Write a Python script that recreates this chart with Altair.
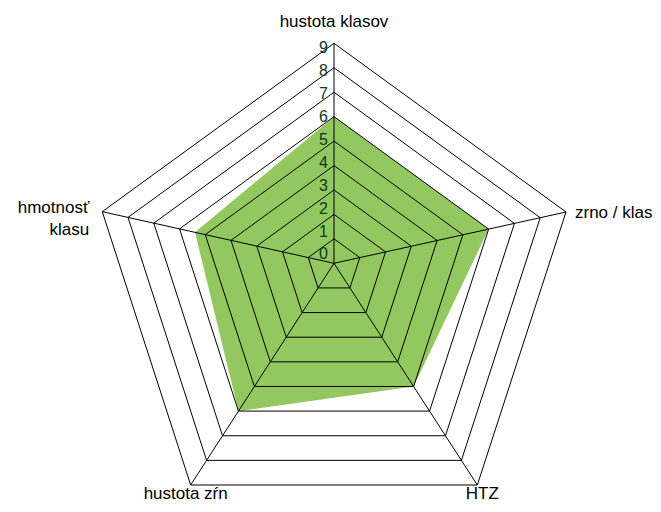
import math
import altair as alt
import pandas as pd

# ---- data ----
categories = ["hustota klasov", "zrno / klas", "HTZ", "hustota zŕn", "hmotnosť klasu"]
values = [6, 6, 5, 6, 5.4]
ring_levels = [1, 2, 3, 4, 5, 6, 7, 8, 9]
tick_labels = ["0", "1", "2", "3", "4", "5", "6", "7", "8", "9"]
max_value = 9

# ---- layout (spoke directions / lengths in px, as drawn in the reference) ----
SPOKE_ANGLE = [90.0, 12.47, -57.12, -122.88, 167.44]
SPOKE_LEN = [220.0, 237.6, 264.0, 264.0, 237.4]
LABEL_BASE = 8.9
LABEL_STEP = 22.9
W, H = 645, 496
X_DOM = [-326, 319]
Y_DOM = [-240.7, 255.3]

ux = [SPOKE_LEN[i] * math.cos(math.radians(SPOKE_ANGLE[i])) / max_value for i in range(5)]
uy = [SPOKE_LEN[i] * math.sin(math.radians(SPOKE_ANGLE[i])) / max_value for i in range(5)]

xs = alt.Scale(domain=X_DOM, zero=False, nice=False)
ys = alt.Scale(domain=Y_DOM, zero=False, nice=False)

def X(f="x"):
    return alt.X(f"{f}:Q", scale=xs, axis=None)

def Y(f="y"):
    return alt.Y(f"{f}:Q", scale=ys, axis=None)

# data polygon
poly_df = pd.DataFrame({
    "k": list(range(5)),
    "cat": categories,
    "x": [values[i] * ux[i] for i in range(5)],
    "y": [values[i] * uy[i] for i in range(5)],
})
poly = alt.Chart(poly_df).mark_line(
    interpolate="linear-closed", fill="#92c85f", filled=True, stroke="#92c85f", strokeWidth=0
).encode(x=X(), y=Y(), order=alt.Order("k:Q"))

# rings
ring_rows = []
for lv in ring_levels:
    for i in range(5):
        ring_rows.append({"level": lv, "k": i, "x": lv * ux[i], "y": lv * uy[i]})
ring_df = pd.DataFrame(ring_rows)
rings = alt.Chart(ring_df).mark_line(
    interpolate="linear-closed", color="black", strokeWidth=1
).encode(x=X(), y=Y(), detail="level:N", order=alt.Order("k:Q"))

# spokes
spoke_df = pd.DataFrame({
    "cat": categories,
    "x": [0.0] * 5,
    "y": [0.0] * 5,
    "x2": [max_value * ux[i] for i in range(5)],
    "y2": [max_value * uy[i] for i in range(5)],
})
spokes = alt.Chart(spoke_df).mark_rule(color="black", strokeWidth=1).encode(
    x=X(), y=Y(), x2="x2:Q", y2="y2:Q"
)

# tick labels
tick_df = pd.DataFrame({
    "t": tick_labels,
    "x": [0.0] * len(tick_labels),
    "y": [LABEL_BASE + LABEL_STEP * int(t) for t in tick_labels],
})
ticks = alt.Chart(tick_df).mark_text(
    align="right", baseline="middle", dx=-6, fontSize=16, color="#0b3b1e", font="Liberation Sans"
).encode(x=X(), y=Y(), text="t:N")

# category labels
def cat_label(i, align, dx, dy, **kw):
    df = pd.DataFrame({
        "cat": [categories[i]],
        "x": [max_value * ux[i]],
        "y": [max_value * uy[i]],
    })
    return alt.Chart(df).mark_text(
        align=align, baseline="alphabetic", dx=dx, dy=dy, fontSize=17,
        color="black", font="Liberation Sans", **kw
    ).encode(x=X(), y=Y(), text="cat:N")

labels = [
    cat_label(0, "center", 0, -16),
    cat_label(1, "left", 9, 6),
    cat_label(2, "center", 5, 14),
    cat_label(3, "center", -5, 14),
    cat_label(4, "right", -13, 1, lineBreak=" ", lineHeight=22),
]

chart = alt.layer(poly, rings, spokes, ticks, *labels).properties(
    width=W, height=H, autosize=alt.AutoSizeParams(type="none"), padding=0
).configure_view(stroke=None)

chart.save("out.html", embed_options={"renderer": "svg", "actions": False})
